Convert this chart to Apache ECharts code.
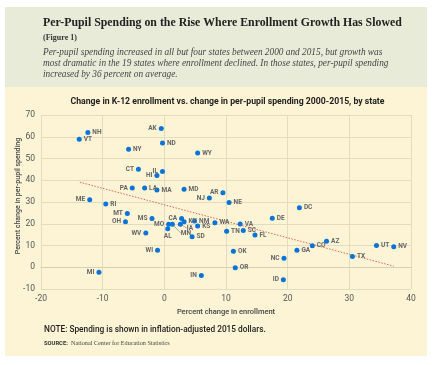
<!DOCTYPE html>
<html><head><meta charset="utf-8">
<script src="https://cdn.jsdelivr.net/npm/echarts@6/dist/echarts.min.js"></script>
<style>html,body{margin:0;padding:0;background:#fff}#c{width:436px;height:365px}</style>
</head><body><div id="c"></div>
<script>
// ---- data ----
const states = ['NH','VT','AK','ND','NY','WY','CT','IL','HI','PA','LA','MA','MD','NJ','AR','NE','DC','ME','RI','DE','MT','OH','MS','CA','KY','NM','MO','MN','IA','AL','KS','WA','VA','TN','SC','FL','WV','SD','AZ','CO','UT','NV','GA','OK','TX','NC','WI','OR','MI','IN','ID'];
const enrollmentChange = [-12.4,-13.8,-0.5,-0.3,-5.8,5.4,-4.2,-0.3,-1.2,-5.2,-3.2,-1.2,3.2,7.3,9.5,10.5,21.9,-12.1,-9.5,17.5,-6.0,-6.3,-2.0,2.8,3.2,4.9,0.7,1.3,2.6,0.55,5.4,8.2,12.3,10.1,12.8,14.7,-3.0,4.5,26.3,24.0,34.4,37.2,21.5,11.2,30.5,19.4,-1.1,11.5,-10.6,6.0,19.3];
const spendingChange = [62.0,58.9,63.8,57.1,54.3,52.5,45.1,44.0,42.2,36.4,36.4,35.5,35.9,31.8,34.2,29.8,27.3,31.0,29.1,22.5,24.7,20.9,22.4,22.4,20.9,21.3,19.8,19.8,19.8,17.7,19.0,20.5,19.9,16.6,16.9,14.8,15.8,14.0,12.0,9.9,10.0,9.4,7.8,7.3,5.0,4.1,7.8,-0.2,-2.3,-3.8,-5.8];
const trendEnrollment = [-13.7, 37.2];
const trendSpending = [39.1, 0.5];
const xAxisRange = [-20, 40, 10];
const yAxisRange = [-10, 70, 10];

// ---- label placement (style only) ----
const labelLeft = ['AK','CT','HI','PA','ME','MT','OH','MS','WV','WI','MI','IN','NC','ID','NJ','AR','MO','IL','CA'];
const labelBottom = ['AL'];
const labelOffsets = {IL:[1,-3.5], CA:[0,-2], KY:[0,-3], VA:[0,-2], CO:[-3,4], UT:[-1,-3], NV:[0,2], TX:[-4,-4], OR:[-1,2.5]};
const leaderLabels = {MN:[4,9], IA:[2,4]};

const serif = '"Liberation Serif", "DejaVu Serif", serif';
const sans = 'Roboto, "Liberation Sans", sans-serif';

const points = states.map((s, i) => {
  const pos = labelLeft.includes(s) ? 'left' : (labelBottom.includes(s) ? 'bottom' : 'right');
  const item = { name: s, value: [enrollmentChange[i], spendingChange[i]],
    label: { position: pos, offset: labelOffsets[s] || [0,0] } };
  if (leaderLabels[s]) item.labelLine = { show: true };
  return item;
});

const chart = echarts.init(document.getElementById('c'), null, {renderer: 'canvas'});
chart.setOption({
  animation: false,
  backgroundColor: '#ffffff',
  graphic: [
    { type: 'rect', z: -10, shape: { x: 5, y: 7, width: 422, height: 80 }, style: { fill: '#e9ebd9' }, silent: true },
    { type: 'rect', z: -10, shape: { x: 5, y: 87, width: 422, height: 269 }, style: { fill: '#fdf4d5' }, silent: true },
    { type: 'text', x: 43, y: 23, scaleX: 0.91, style: { text: 'Per-Pupil Spending on the Rise Where Enrollment Growth Has Slowed', font: 'bold 13px ' + serif, fill: '#222', textVerticalAlign: 'middle' } },
    { type: 'text', x: 43, y: 38, style: { text: '(Figure 1)', font: 'bold 8px ' + serif, fill: '#333', textVerticalAlign: 'middle' } },
    { type: 'text', x: 43, y: 52.5, scaleX: 0.93, style: { text: 'Per-pupil spending increased in all but four states between 2000 and 2015, but growth was', font: 'italic 10px ' + serif, fill: '#444', textVerticalAlign: 'middle' } },
    { type: 'text', x: 43, y: 63.3, scaleX: 0.93, style: { text: 'most dramatic in the 19 states where enrollment declined. In those states, per-pupil spending', font: 'italic 10px ' + serif, fill: '#444', textVerticalAlign: 'middle' } },
    { type: 'text', x: 43, y: 74, scaleX: 0.93, style: { text: 'increased by 36 percent on average.', font: 'italic 10px ' + serif, fill: '#444', textVerticalAlign: 'middle' } },
    { type: 'text', x: 227.5, y: 102, style: { text: 'Change in K-12 enrollment vs. change in per-pupil spending 2000-2015, by state', font: 'bold 8.7px ' + sans, fill: '#222', textAlign: 'center', textVerticalAlign: 'middle' } },
    { type: 'text', x: 18.7, y: 196, rotation: Math.PI / 2, style: { text: 'Percent change in per-pupil spending', font: '500 7px ' + sans, fill: '#444', textAlign: 'center', textVerticalAlign: 'middle' } },
    { type: 'text', x: 44, y: 330, style: { text: 'NOTE: Spending is shown in inflation-adjusted 2015 dollars.', font: '500 8.3px ' + sans, fill: '#222', textVerticalAlign: 'middle' } },
    { type: 'text', x: 44, y: 343.7, style: { text: '{a|SOURCE:} {b|National Center for Education Statistics}', textVerticalAlign: 'middle',
        rich: { a: { font: 'bold 5.8px ' + sans, fill: '#333' }, b: { font: '6.2px ' + serif, fill: '#444' } } } }
  ],
  grid: { left: 41, right: 25, top: 115, bottom: 76, containLabel: false, outerBoundsMode: 'none' },
  xAxis: {
    type: 'value', min: xAxisRange[0], max: xAxisRange[1], interval: xAxisRange[2],
    name: 'Percent change in enrollment', nameLocation: 'middle', nameGap: 19, nameMoveOverlap: false,
    nameTextStyle: { fontFamily: sans, fontSize: 7.5, color: '#444', fontWeight: 500 },
    axisLine: { show: true, lineStyle: { color: '#d8d0b2', width: 1 } },
    axisTick: { show: false },
    axisLabel: { fontFamily: sans, fontSize: 8.5, color: '#555', margin: 5 },
    splitLine: { show: true, lineStyle: { color: '#e4dcbf', width: 1 } }
  },
  yAxis: {
    type: 'value', min: yAxisRange[0], max: yAxisRange[1], interval: yAxisRange[2],
    axisLine: { show: true, lineStyle: { color: '#e4dcbf', width: 1 } },
    axisTick: { show: true, length: 4, lineStyle: { color: '#e4dcbf' } },
    axisLabel: { fontFamily: sans, fontSize: 8.5, color: '#555', margin: 6 },
    splitLine: { show: true, lineStyle: { color: '#e4dcbf', width: 1 } }
  },
  series: [
    {
      type: 'line', data: trendEnrollment.map((x, i) => [x, trendSpending[i]]),
      symbol: 'none', silent: true, z: 1,
      lineStyle: { color: '#e0675c', width: 1, type: [1.5, 1.5] }
    },
    {
      type: 'scatter', data: points, symbolSize: 5, z: 3,
      itemStyle: { color: '#0b72d8', opacity: 1 },
      label: { show: true, formatter: '{b}', distance: 2, fontFamily: sans, fontSize: 6.5, fontWeight: 'bold', color: '#666' },
      labelLine: { show: false, lineStyle: { color: '#777', width: 0.6 }, length2: 0 },
      labelLayout: function (p) {
        const s = states[p.dataIndex];
        if (leaderLabels[s]) {
          return { dx: leaderLabels[s][0], dy: leaderLabels[s][1] };
        }
        return {};
      }
    }
  ]
});
</script></body></html>
